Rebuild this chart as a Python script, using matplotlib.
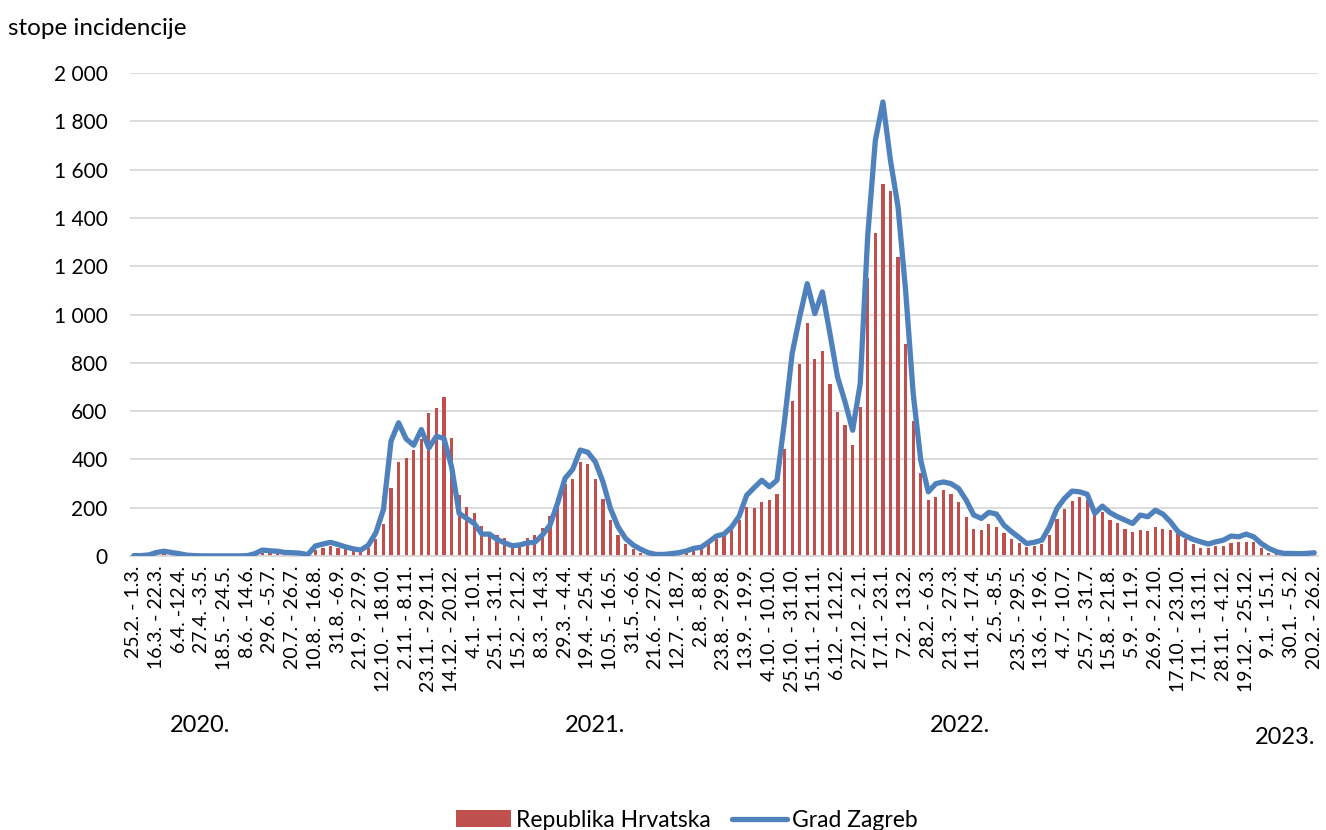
import matplotlib
matplotlib.use("Agg")
import matplotlib.pyplot as plt

plt.rcParams["font.family"] = ["Lato", "DejaVu Sans"]

# tjedne stope incidencije (25.2.2020. - 26.2.2023.)
hrvatska = [
    1, 1, 3, 8, 10, 8, 5, 3, 1, 1, 1, 1, 1, 2, 3, 5, 10, 12, 15, 15,
    12, 10, 12, 15, 25, 35, 40, 35, 28, 25, 20, 35, 72, 134, 280, 390, 407, 438, 485, 592,
    614, 660, 491, 255, 204, 179, 126, 100, 87, 73, 50, 50, 73, 87, 115, 166, 240, 300, 320, 390,
    380, 321, 236, 148, 88, 52, 28, 14, 7, 5, 5, 7, 10, 15, 22, 28, 50, 69, 83, 108,
    149, 204, 201, 225, 234, 256, 445, 643, 797, 965, 814, 848, 712, 596, 543, 459, 618, 1150, 1337, 1540,
    1513, 1240, 878, 560, 342, 234, 245, 273, 256, 222, 160, 112, 108, 132, 121, 94, 69, 55, 39, 41,
    52, 87, 152, 197, 229, 243, 232, 170, 183, 149, 135, 114, 101, 110, 105, 121, 113, 108, 91, 69,
    50, 34, 32, 43, 43, 55, 57, 59, 57, 32, 14, 8, 6, 5, 6, 7, 9,
]
zagreb = [
    2, 2, 5, 15, 20, 15, 10, 4, 2, 1, 1, 1, 1, 1, 1, 2, 10, 25, 22, 20,
    15, 14, 12, 6, 42, 50, 57, 48, 38, 30, 25, 45, 97, 193, 476, 552, 485, 459, 524, 448,
    496, 487, 370, 177, 156, 135, 91, 91, 69, 55, 43, 46, 55, 57, 87, 128, 218, 322, 359, 439,
    430, 390, 308, 197, 121, 73, 46, 28, 14, 7, 7, 10, 14, 21, 32, 37, 59, 83, 91, 120,
    165, 252, 284, 314, 287, 314, 560, 838, 990, 1128, 1004, 1094, 921, 742, 638, 521, 714, 1330, 1721, 1880,
    1638, 1445, 1100, 673, 397, 266, 300, 307, 300, 280, 232, 170, 156, 181, 174, 128, 101, 77, 52, 57,
    66, 121, 197, 239, 269, 266, 256, 177, 207, 180, 163, 149, 135, 170, 163, 190, 174, 142, 101, 83,
    69, 59, 50, 59, 66, 83, 80, 91, 80, 52, 32, 18, 11, 11, 10, 11, 14,
]
tjedni_oznake = [
    "25.2. - 1.3.", "16.3. - 22.3.", "6.4. -12.4.", "27.4. -3.5.", "18.5. - 24.5.",
    "8.6. - 14.6.", "29.6. -5.7.", "20.7. - 26.7.", "10.8. - 16.8.", "31.8. -6.9.",
    "21.9. - 27.9.", "12.10. - 18.10.", "2.11. - 8.11.", "23.11. - 29.11.", "14.12. - 20.12.",
    "4.1. - 10.1.", "25.1. - 31.1.", "15.2. - 21.2.", "8.3. - 14.3.", "29.3. - 4.4.",
    "19.4. - 25.4.", "10.5. - 16.5.", "31.5. -6.6.", "21.6. - 27.6.", "12.7. - 18.7.",
    "2.8. - 8.8.", "23.8. - 29.8.", "13.9. - 19.9.", "4.10. - 10.10.", "25.10. - 31.10.",
    "15.11. - 21.11.", "6.12. - 12.12.", "27.12. - 2.1.", "17.1. - 23.1.", "7.2. - 13.2.",
    "28.2. - 6.3.", "21.3. - 27.3.", "11.4. - 17.4.", "2.5. -8.5.", "23.5. - 29.5.",
    "13.6. - 19.6.", "4.7. - 10.7.", "25.7. - 31.7.", "15.8. - 21.8.", "5.9. - 11.9.",
    "26.9. - 2.10.", "17.10. - 23.10.", "7.11. - 13.11.", "28.11. - 4.12.", "19.12. - 25.12.",
    "9.1. - 15.1.", "30.1. - 5.2.", "20.2. - 26.2.",
]
godine = ["2020.", "2021.", "2022.", "2023."]
y_ticks = [0, 200, 400, 600, 800, 1000, 1200, 1400, 1600, 1800, 2000]

x = list(range(len(hrvatska)))

fig = plt.figure(figsize=(13.26, 8.30), dpi=100)
ax = fig.add_axes([0.098, 0.330, 0.896, 0.582])

bars = ax.bar(x, hrvatska, width=0.42, color="#C0504D", label="Republika Hrvatska", zorder=2)
line, = ax.plot(x, zagreb, color="#4F81BD", lw=3.8, label="Grad Zagreb", zorder=3,
                solid_joinstyle="round", solid_capstyle="round")

ax.set_xlim(-0.5, len(x) - 0.5)
ax.set_ylim(0, 2000)
ax.set_yticks(y_ticks)
ax.set_yticklabels([f"{v:,}".replace(",", " ") for v in y_ticks], fontsize=15)
ax.set_xticks(x[::3])
ax.set_xticklabels(tjedni_oznake, rotation=90, fontsize=14)
ax.tick_params(axis="both", length=0)
ax.tick_params(axis="y", pad=16)
ax.tick_params(axis="x", pad=7)
ax.grid(axis="y", color="#D9D9D9", lw=1.3, zorder=0)
for s in ["top", "right", "left"]:
    ax.spines[s].set_visible(False)
ax.spines["bottom"].set_color("#D9D9D9")
ax.spines["bottom"].set_linewidth(1.3)

fig.text(0.006, 0.966, "stope incidencije", fontsize=17.5, va="center")
for xpos, ypos, g in zip([0.128, 0.426, 0.701, 0.946], [0.126, 0.126, 0.126, 0.111], godine):
    fig.text(xpos, ypos, g, fontsize=17, ha="left", va="center")

fig.legend([bars, line], ["Republika Hrvatska", "Grad Zagreb"], loc="center",
           bbox_to_anchor=(0.518, 0.012), ncol=2, frameon=False,
           fontsize=16.5, handlelength=2.4, handletextpad=0.25, columnspacing=0.9)

fig.savefig("out.png", dpi=100)
